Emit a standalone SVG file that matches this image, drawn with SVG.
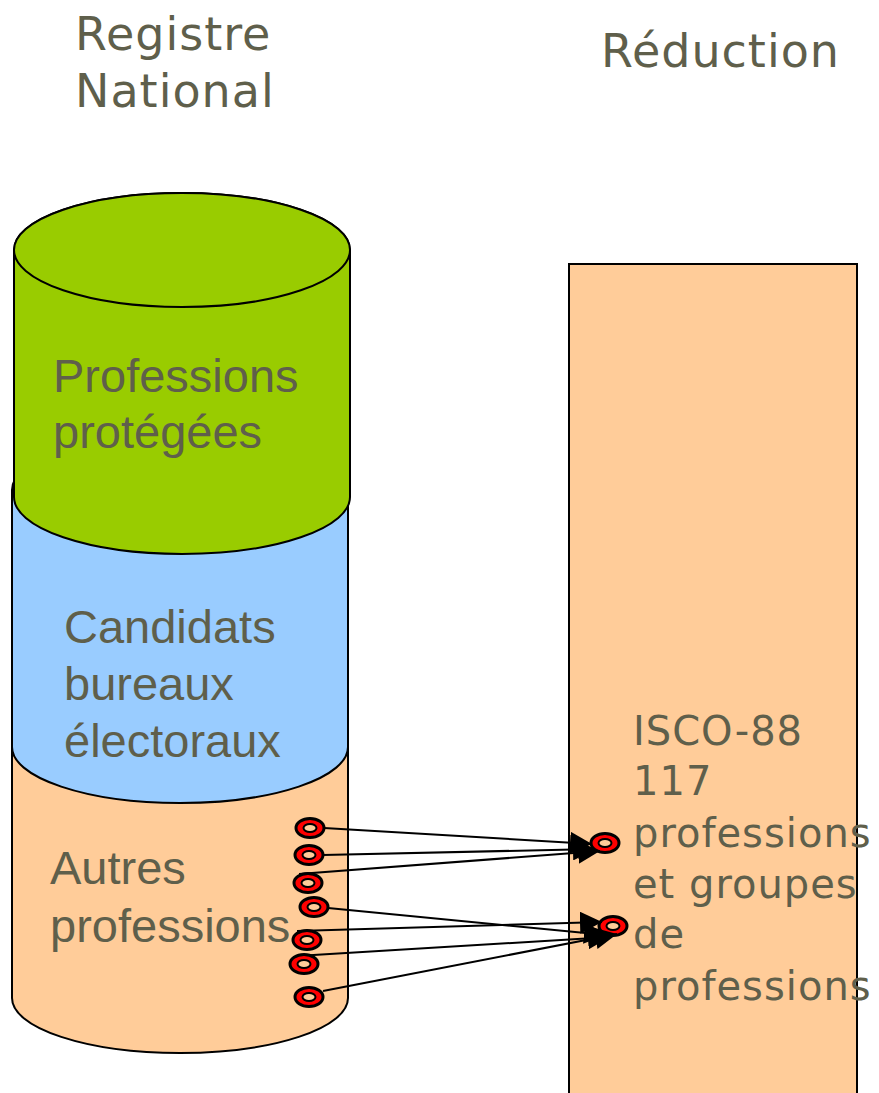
<svg xmlns="http://www.w3.org/2000/svg" width="879" height="1093" viewBox="0 0 879 1093">
<style>
.cyl{stroke:#000;stroke-width:2}
.lbl{font-family:"Liberation Sans",Arial,sans-serif;font-size:47px;fill:#5f5f4b}
.ttl{font-family:"DejaVu Sans",Verdana,sans-serif;font-size:46px;fill:#5f5f4b;letter-spacing:1px}
.isco{font-family:"DejaVu Sans",Verdana,sans-serif;font-size:40px;fill:#5f5f4b;letter-spacing:1px}
.ro{fill:#ff0000;stroke:#000;stroke-width:3}
.ri{fill:#ffcc99;stroke:#000;stroke-width:2}
.con{stroke:#000;stroke-width:2;fill:none;marker-end:url(#ah)}
</style>
<defs>
<marker id="ah" viewBox="0 0 10 10" refX="10" refY="5" markerWidth="22" markerHeight="22" markerUnits="userSpaceOnUse" orient="auto">
<path d="M0,0 L10,5 L0,10 z" fill="#000"/>
</marker>
<g id="ring"><ellipse class="ro" cx="0" cy="0" rx="14" ry="9.5"/><ellipse class="ri" cx="0" cy="0" rx="6.5" ry="4"/></g>
</defs>
<rect width="879" height="1093" fill="#fff"/>
<g id="titles">
<text class="ttl" x="75" y="50">Registre</text>
<text class="ttl" x="75" y="107">National</text>
<text class="ttl" x="601" y="67">Réduction</text>
</g>
<g id="autres">
<path class="cyl" fill="#ffcc99" d="M12,740 L12,998 A168 55 0 0 0 348,998 L348,740 A168 55 0 0 0 12,740 Z"/>
<text class="lbl" x="50" y="884">Autres</text>
<text class="lbl" x="50" y="942">professions</text>
</g>
<g id="candidats">
<path class="cyl" fill="#99ccff" d="M12,490 L12,747 A168 56 0 0 0 348,747 L348,490 A168 56 0 0 0 12,490 Z"/>
<text class="lbl" x="64" y="643">Candidats</text>
<text class="lbl" x="64" y="700">bureaux</text>
<text class="lbl" x="64" y="757">électoraux</text>
</g>
<g id="protegees">
<path class="cyl" fill="#99cc00" d="M14,250 L14,497 A168 57 0 0 0 350,497 L350,250 A168 57 0 0 0 14,250 Z"/>
<ellipse class="cyl" fill="#99cc00" cx="182" cy="250" rx="168" ry="57"/>
<text class="lbl" x="53" y="392">Professions</text>
<text class="lbl" x="53" y="448">protégées</text>
</g>
<g id="reduction">
<rect x="569" y="264" width="288" height="840" fill="#ffcc99" stroke="#000" stroke-width="2"/>
<text class="isco" x="633" y="745">ISCO-88</text>
<text class="isco" x="633" y="795">117</text>
<text class="isco" x="633" y="847">professions</text>
<text class="isco" x="633" y="898">et groupes</text>
<text class="isco" x="633" y="948">de</text>
<text class="isco" x="633" y="1000">professions</text>
</g>
<g id="targets">
<use href="#ring" x="605" y="843"/>
<use href="#ring" x="613" y="926"/>
</g>
<g id="connectors">
<line class="con" x1="324" y1="828" x2="592" y2="844"/>
<line class="con" x1="323" y1="855" x2="595" y2="849"/>
<line class="con" x1="299" y1="874" x2="600" y2="851"/>
<line class="con" x1="328" y1="908" x2="606" y2="935"/>
<line class="con" x1="297" y1="931" x2="602" y2="922"/>
<line class="con" x1="297" y1="956" x2="610" y2="937"/>
<line class="con" x1="323" y1="991" x2="617" y2="934"/>
</g>
<g id="sources">
<use href="#ring" x="310" y="828"/>
<use href="#ring" x="309" y="855"/>
<use href="#ring" x="308" y="883"/>
<use href="#ring" x="314" y="907"/>
<use href="#ring" x="307" y="940"/>
<use href="#ring" x="304" y="964"/>
<use href="#ring" x="309" y="997"/>
</g>
</svg>
